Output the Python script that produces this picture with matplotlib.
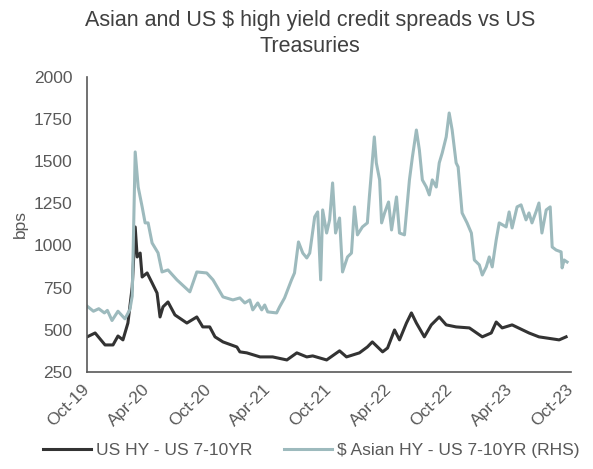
import numpy as np
import pandas as pd
import matplotlib
matplotlib.use("Agg")
import matplotlib.pyplot as plt
import matplotlib.transforms as mtrans

# $ Asian HY - US 7-10YR (RHS), bps
asia_dates = ["2019-10-01", "2019-10-20", "2019-11-05", "2019-11-22", "2019-12-01", "2019-12-15",
              "2020-01-02", "2020-01-23", "2020-02-07", "2020-02-14", "2020-02-23", "2020-03-03",
              "2020-03-15", "2020-03-24", "2020-04-02", "2020-04-14", "2020-05-02", "2020-05-14",
              "2020-06-01", "2020-06-28", "2020-08-06", "2020-08-27", "2020-09-26", "2020-10-15",
              "2020-11-14", "2020-12-14", "2021-01-04", "2021-01-19", "2021-02-03", "2021-02-12",
              "2021-02-27", "2021-03-11", "2021-03-20", "2021-03-29", "2021-04-25", "2021-05-04",
              "2021-05-19", "2021-06-09", "2021-06-18", "2021-06-30", "2021-07-13", "2021-07-25",
              "2021-08-03", "2021-08-18", "2021-08-27", "2021-09-05", "2021-09-11",
              "2021-09-23", "2021-10-02", "2021-10-11", "2021-10-20", "2021-11-01", "2021-11-10",
              "2021-11-25", "2021-12-07", "2021-12-16", "2021-12-25", "2022-01-09", "2022-01-24",
              "2022-01-30", "2022-02-14", "2022-02-20", "2022-03-02", "2022-03-08", "2022-03-17",
              "2022-03-29", "2022-04-07", "2022-04-22", "2022-05-01", "2022-05-16", "2022-05-22",
              "2022-05-31", "2022-06-09", "2022-06-21", "2022-06-30", "2022-07-09", "2022-07-21",
              "2022-07-30", "2022-08-08", "2022-08-20", "2022-08-29", "2022-09-07", "2022-09-19",
              "2022-09-28", "2022-10-07", "2022-10-19", "2022-10-25", "2022-11-06", "2022-11-21",
              "2022-12-04", "2022-12-13", "2022-12-28", "2023-01-06", "2023-01-18", "2023-01-27",
              "2023-02-05", "2023-02-17", "2023-02-26", "2023-03-19", "2023-03-28", "2023-04-06",
              "2023-04-21", "2023-05-03", "2023-05-18", "2023-05-27", "2023-06-05", "2023-06-17",
              "2023-06-26", "2023-07-05", "2023-07-18", "2023-07-30", "2023-08-05", "2023-08-17",
              "2023-09-01", "2023-09-04", "2023-09-10", "2023-09-19"]
asia_bps = [640, 610, 625, 600, 615, 555,
            610, 565, 620, 700, 1555, 1347,
            1229, 1134, 1134, 1015, 956, 843,
            855, 796, 725, 843, 837, 796,
            695, 677, 689, 659, 677, 618,
            659, 618, 647, 606, 600, 636,
            689, 796, 837, 1021, 955, 926,
            955, 1170, 1199, 796, 1211,
            1074, 1152, 1371, 1074, 1163, 843,
            932, 955, 1229, 1063, 1110, 1134,
            1288, 1644, 1490, 1389, 1134, 1193,
            1258, 1092, 1288, 1074, 1063, 1193,
            1389, 1525, 1685, 1567, 1389, 1347,
            1300, 1389, 1347, 1490, 1549, 1644,
            1786, 1685, 1490, 1466, 1193, 1134,
            1074, 914, 885, 825, 873, 932,
            873, 1033, 1134, 1110, 1199, 1104,
            1229, 1241, 1152, 1193, 1134, 1199,
            1252, 1074, 1211, 1229, 991, 973,
            962, 867, 914, 902]

# US HY - US 7-10YR, bps
us_dates = ["2019-10-01", "2019-10-25", "2019-11-24", "2019-12-18", "2020-01-02", "2020-01-17",
            "2020-02-01", "2020-02-14", "2020-02-23", "2020-02-29", "2020-03-09", "2020-03-15",
            "2020-03-30", "2020-04-14", "2020-04-29", "2020-05-08", "2020-05-17", "2020-06-01",
            "2020-06-22", "2020-07-28", "2020-08-27", "2020-09-14", "2020-10-05", "2020-10-21",
            "2020-11-14", "2020-12-26", "2021-01-04", "2021-01-25", "2021-03-06", "2021-04-13",
            "2021-05-26", "2021-06-25", "2021-07-25", "2021-08-12", "2021-09-23", "2021-11-01",
            "2021-11-22", "2021-12-31", "2022-01-24", "2022-02-08", "2022-03-11", "2022-03-26",
            "2022-04-16", "2022-05-01", "2022-05-22", "2022-06-06", "2022-06-21", "2022-07-15",
            "2022-08-05", "2022-08-29", "2022-09-19", "2022-10-19", "2022-11-28", "2023-01-06",
            "2023-02-02", "2023-02-17", "2023-03-07", "2023-04-06", "2023-05-27", "2023-06-26",
            "2023-08-26", "2023-09-16"]
us_bps = [458, 481, 410, 410, 463, 440,
          540, 754, 1110, 932, 955, 813,
          837, 778, 718, 576, 636, 665,
          588, 540, 576, 517, 517, 458,
          428, 398, 369, 363, 339, 339,
          321, 363, 339, 345, 321, 375,
          339, 363, 398, 428, 369, 392,
          499, 440, 540, 600, 540, 458,
          529, 576, 529, 517, 511, 458,
          481, 546, 511, 529, 481, 458,
          440, 458]

tick_labels = ["Oct-19", "Apr-20", "Oct-20", "Apr-21", "Oct-21", "Apr-22", "Oct-22", "Apr-23", "Oct-23"]

plt.rcParams['font.family'] = ['Liberation Sans', 'DejaVu Sans']
txt = "#595959"

fig = plt.figure(figsize=(5.93, 4.69), dpi=100)
ax = fig.add_axes([0.147, 0.207, 0.816, 0.629])

ax.plot(pd.to_datetime(us_dates), us_bps, color="#333333", lw=2.2, label="US HY - US 7-10YR")
ax.plot(pd.to_datetime(asia_dates), asia_bps, color="#9dbabd", lw=2.2, label="$ Asian HY - US 7-10YR (RHS)")

ax.set_ylim(250, 2000)
ax.set_yticks(np.arange(250, 2001, 250))
ticks = pd.date_range("2019-10-01", periods=len(tick_labels), freq="6MS")
ax.set_xticks(ticks)
ax.set_xticklabels(tick_labels, rotation=45, ha="right", va="center", rotation_mode="anchor")
ax.set_xlim(ticks[0], ticks[-1])
shift = mtrans.ScaledTranslation(4 / 100, 0, fig.dpi_scale_trans)
for lab in ax.get_xticklabels():
    lab.set_transform(lab.get_transform() + shift)

for s in ["top", "right"]:
    ax.spines[s].set_visible(False)
for s in ["left", "bottom"]:
    ax.spines[s].set_color("#595959")
    ax.spines[s].set_linewidth(1.2)
ax.tick_params(length=0, labelsize=12.5, colors=txt)
ax.tick_params(axis="y", pad=10.5)
ax.tick_params(axis="x", pad=11)

ax.set_ylabel("bps", fontsize=12.5, color=txt, labelpad=4)
fig.text(0.523, 0.979, "Asian and US $ high yield credit spreads vs US\nTreasuries",
         ha="center", va="top", fontsize=15.5, color="#404040", linespacing=1.3)

fig.legend(loc="lower center", bbox_to_anchor=(0.525, -0.01), ncol=2, frameon=False,
           fontsize=12.5, labelcolor=txt, handlelength=2.76, handletextpad=0.3,
           columnspacing=1.85)

fig.savefig("out.png", dpi=100)
